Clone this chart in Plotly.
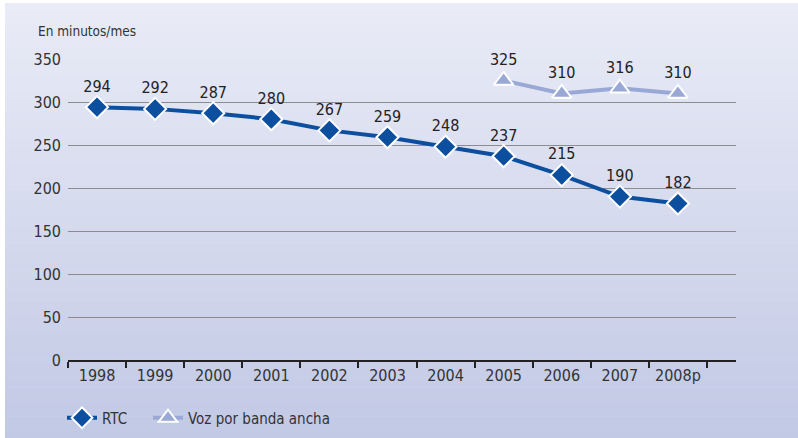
import plotly.graph_objects as go

years = ['1998', '1999', '2000', '2001', '2002', '2003', '2004', '2005', '2006', '2007', '2008p']
rtc = [294, 292, 287, 280, 267, 259, 248, 237, 215, 190, 182]
voz_years = ['2005', '2006', '2007', '2008p']
voz = [325, 310, 316, 310]

W, H = 798, 438
L, R, T, B = 68, 62, 59, 78
pw, ph = W - L - R, H - T - B
font = 'DejaVu Sans Condensed, Liberation Sans Narrow, sans-serif'


def px_x(p):
    return (p - L) / pw


def px_y(p):
    return (H - B - p) / ph


# background gradient built from thin bands
top_c = (233, 235, 246)
bot_c = (194, 201, 229)
shapes = []
n = 60
y_start, y_end = 3, H
for i in range(n):
    f = i / (n - 1)
    c = tuple(int(round(a + (b - a) * f)) for a, b in zip(top_c, bot_c))
    y0 = y_start + (y_end - y_start) * i / n
    y1 = y_start + (y_end - y_start) * (i + 1) / n + 0.5
    shapes.append(dict(type='rect', xref='paper', yref='paper', layer='below',
                       x0=px_x(5), x1=px_x(W), y0=px_y(y1), y1=px_y(y0),
                       fillcolor='rgb(%d,%d,%d)' % c, line=dict(width=0)))

fig = go.Figure()
fig.add_trace(go.Scatter(
    x=years, y=rtc, name='RTC', mode='lines+markers+text', legend='legend',
    text=[str(v) for v in rtc], textposition='top center',
    textfont=dict(size=16, color='#222222', family=font),
    line=dict(color='#0b4f9e', width=4),
    marker=dict(symbol='diamond', size=17, color='#0b4f9e',
                line=dict(color='white', width=2)),
    cliponaxis=False))
fig.add_trace(go.Scatter(
    x=voz_years, y=voz, name='Voz por banda ancha', mode='lines+markers+text', legend='legend2',
    text=[str(v) for v in voz], textposition='top center',
    textfont=dict(size=16, color='#222222', family=font),
    line=dict(color='#9aa8d5', width=4),
    marker=dict(symbol='triangle-up', size=17, color='#9aa8d5',
                line=dict(color='white', width=2)),
    cliponaxis=False))

leg = dict(orientation='h', xanchor='left', y=px_y(418), yanchor='middle',
           font=dict(size=15, color='#333333'), bgcolor='rgba(0,0,0,0)', itemwidth=30)
fig.update_layout(
    width=W, height=H,
    margin=dict(l=L, r=R, t=T, b=B, autoexpand=False),
    paper_bgcolor='white',
    plot_bgcolor='rgba(0,0,0,0)',
    font=dict(family=font, size=16, color='#333333'),
    shapes=shapes,
    showlegend=True,
    legend=dict(leg, x=px_x(62)),
    legend2=dict(leg, x=px_x(148)),
    annotations=[dict(text='En minutos/mes', xref='paper', yref='paper',
                      x=px_x(36), y=px_y(31), xanchor='left', yanchor='middle',
                      showarrow=False, font=dict(size=13.5, color='#333333'))],
)
fig.update_xaxes(type='category', categoryorder='array', categoryarray=years,
                 range=[-0.5, 11.0], showgrid=False, tickson='boundaries',
                 ticks='outside', ticklen=6, tickcolor='#222222', tickwidth=1.5,
                 showline=True, linecolor='#222222', linewidth=1.5, automargin=False,
                 tickfont=dict(size=16, color='#333333'))
fig.update_yaxes(range=[0, 350], dtick=50, showgrid=True, gridcolor='#8c8c8c',
                 gridwidth=1, zeroline=False, showline=False, ticks='', automargin=False,
                 ticklabelstandoff=6, tickfont=dict(size=16, color='#333333'))

fig.write_html('out.html', config={'displayModeBar': False},
               post_script="document.body.style.margin='0';")
